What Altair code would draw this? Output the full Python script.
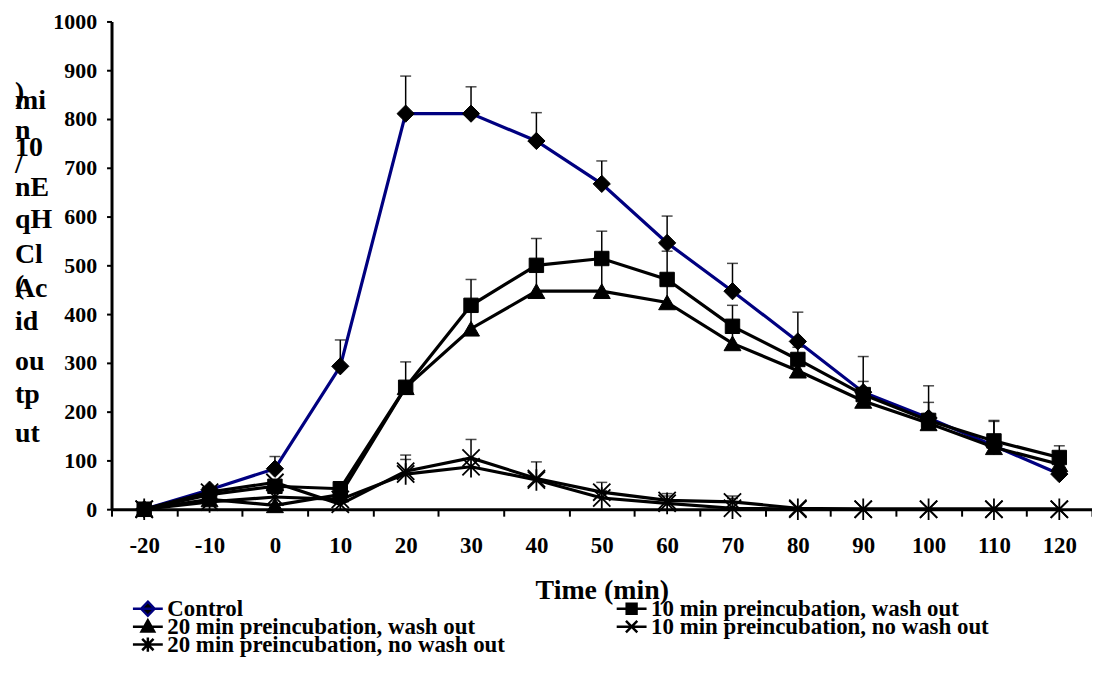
import altair as alt
import pandas as pd

# ---------------- data ----------------
times = [-20, -10, 0, 10, 20, 30, 40, 50, 60, 70, 80, 90, 100, 110, 120]
series_names = [
    "Control",
    "10 min preincubation, wash out",
    "20 min preincubation, wash out",
    "10 min preincubation, no wash out",
    "20 min preincubation, no wash out",
]
control = [0, 40, 83, 293, 811, 811, 755, 667, 546, 447, 344, 240, 187, 130, 72]
control_sem = [0, 0, 25, 54, 77, 55, 58, 47, 55, 57, 60, 73, 66, 50, 0]
wash10 = [0, 30, 47, 42, 250, 418, 500, 514, 471, 375, 307, 235, 182, 140, 106]
wash10_sem = [0, 0, 0, 0, 52, 53, 55, 56, 58, 43, 25, 27, 37, 42, 24]
wash20 = [0, 20, 8, 30, 250, 370, 447, 447, 424, 340, 284, 222, 176, 127, 92]
wash20_sem = [0, 0, 0, 0, 0, 40, 50, 60, 50, 35, 25, 25, 20, 25, 15]
nowash10 = [0, 35, 55, 10, 78, 105, 63, 35, 18, 15, 2, 0, 0, 0, 0]
nowash10_sem = [0, 0, 0, 0, 33, 38, 34, 20, 14, 12, 0, 0, 0, 0, 0]
nowash20 = [0, 15, 25, 20, 72, 87, 60, 23, 12, 2, 0, 0, 0, 0, 0]
nowash20_sem = [0, 0, 0, 0, 30, 0, 0, 15, 15, 20, 0, 0, 0, 0, 0]

y_ticks = [0, 100, 200, 300, 400, 500, 600, 700, 800, 900, 1000]
x_title = "Time (min)"
y_title_fragments = [")", "mi", "n", "10", "/", "nE", "qH", "Cl", "(", "Ac", "id", "ou", "tp", "ut"]

values_list = [control, wash10, wash20, nowash10, nowash20]
sems_list = [control_sem, wash10_sem, wash20_sem, nowash10_sem, nowash20_sem]

rows = []
for name, vals, sems in zip(series_names, values_list, sems_list):
    for t, v, s in zip(times, vals, sems):
        rows.append({"time": t, "value": v, "sem": s, "top": v + s, "series": name})
df = pd.DataFrame(rows)

# ---------------- layout / style ----------------
W, H = 985, 490
FONT = "Liberation Serif"
plot_left, plot_top = 112, 20
half_step = 5
x_dom = [times[0] - half_step, times[-1] + half_step]
tick_vals = [t - half_step for t in times] + [times[-1] + half_step]
label_shift = W * half_step / (x_dom[1] - x_dom[0])

x_enc = alt.X(
    "time:Q",
    scale=alt.Scale(domain=x_dom, nice=False, zero=False),
    axis=alt.Axis(
        values=tick_vals,
        labelExpr=f"datum.value < {times[-1]} ? '' + (datum.value + {half_step}) : ''",
        labelOffset=label_shift,
        labelFlush=False,
        labelOverlap=False,
        labelFontSize=23,
        labelPadding=18,
        tickSize=7,
        tickWidth=2,
        domainWidth=3,
        grid=False,
        title=x_title,
        titleFontSize=28,
        titlePadding=20,
    ),
)
y_enc = alt.Y(
    "value:Q",
    scale=alt.Scale(domain=[y_ticks[0], y_ticks[-1]], nice=False),
    axis=alt.Axis(
        values=y_ticks,
        format="d",
        labelFontSize=22,
        labelPadding=10,
        tickSize=5,
        tickWidth=2,
        domainWidth=3,
        grid=False,
        title=None,
    ),
)

colors = ["#000080", "black", "black", "black", "black"]

# chart markers
marker_shapes = [
    "diamond",
    "square",
    "triangle-up",
    "M-1,-1L1,1M-1,1L1,-1",
    "M-1,-1L1,1M-1,1L1,-1M0,-1.25L0,1.25",
]
marker_sizes = [300, 210, 290, 300, 300]
marker_filled = [True, True, True, False, False]

# legend symbols: short line with marker in the middle
legend_paths = [
    "M-1,0L1,0M0,-0.47L0.45,0L0,0.47L-0.45,0Z",
    "M-1,0L1,0M-0.33,-0.33L0.33,-0.33L0.33,0.33L-0.33,0.33Z",
    "M-1,0L1,0M0,-0.42L0.42,0.32L-0.42,0.32Z",
    "M-1,0L1,0M-0.38,-0.38L0.38,0.38M-0.38,0.38L0.38,-0.38",
    "M-1,0L1,0M-0.38,-0.38L0.38,0.38M-0.38,0.38L0.38,-0.38M0,-0.48L0,0.48",
]
# legend grid: 2 columns, entries row by row
legend_col_x = [148, 634]    # symbol centres (page px)
legend_row_y = [609, 627, 645]
sym_half = 16

line_layers = []
point_layers = []
for name, col, shp, sz, filled in zip(series_names, colors, marker_shapes, marker_sizes, marker_filled):
    sub = df[df["series"] == name]
    line_layers.append(
        alt.Chart(sub).mark_line(strokeWidth=3.2, color=col).encode(x=x_enc, y=y_enc, order="time:Q")
    )
    if filled:
        mk = alt.Chart(sub).mark_point(
            shape=shp, size=sz, filled=True, fill="black", stroke="black",
            strokeWidth=1, opacity=1
        )
    else:
        mk = alt.Chart(sub).mark_point(
            shape=shp, size=sz, filled=False, stroke="black", strokeWidth=1.8, opacity=1
        )
    point_layers.append(mk.encode(x=x_enc, y=y_enc))

err_df = df[df["sem"] > 0]
rules = alt.Chart(err_df).mark_rule(color="black", strokeWidth=1.5).encode(
    x=x_enc, y=alt.Y("value:Q"), y2="top:Q"
)
caps = alt.Chart(err_df).mark_tick(
    color="black", orient="horizontal", size=11, thickness=1.5
).encode(x=x_enc, y=alt.Y("top:Q"))

legend_layers = []
for i, (name, col, path) in enumerate(zip(series_names, colors, legend_paths)):
    r, c = divmod(i, 2)
    props = dict(
        title=None,
        orient="none",
        legendX=legend_col_x[c] - plot_left - sym_half,
        legendY=legend_row_y[r] - plot_top - 15.5,
        symbolSize=900,
        symbolStrokeWidth=2.5,
        symbolOpacity=1,
        labelOffset=3,
        labelFontSize=23,
        labelFont=FONT,
        labelFontWeight="bold",
        labelColor="black",
        labelLimit=0,
        padding=0,
    )
    legend_layers.append(
        alt.Chart(df).transform_filter("false").mark_point(
            filled=False, fill="black", strokeWidth=2.5
        ).encode(
            x=x_enc,
            y=y_enc,
            color=alt.Color("series:N", scale=alt.Scale(domain=[name], range=[col]),
                            legend=alt.Legend(**props)),
            shape=alt.Shape("series:N", scale=alt.Scale(domain=[name], range=[path]),
                            legend=alt.Legend(**props)),
        )
    )

# y-axis title, reproduced as the broken fragments of the reference
frag_baselines = [100, 108, 138, 155, 172, 195, 227, 263, 294, 297, 330, 370, 403, 442]
text_layers = []
for frag, base in zip(y_title_fragments, frag_baselines):
    text_layers.append(
        alt.Chart(alt.Data(values=[{"t": frag}])).mark_text(
            align="left", baseline="alphabetic", font=FONT, fontWeight="bold",
            fontSize=28, color="black"
        ).encode(
            x=alt.value(15 - plot_left),
            y=alt.value(base - plot_top),
            text="t:N",
        )
    )

chart = alt.layer(
    *line_layers, rules, caps, *point_layers, *legend_layers, *text_layers
).resolve_scale(
    color="independent", shape="independent"
).properties(
    width=W,
    height=H,
    autosize=alt.AutoSizeParams(type="none"),
    padding={"left": plot_left - 8, "top": plot_top - 8, "right": 0, "bottom": 155},
).configure(
    font=FONT,
).configure_axis(
    labelFont=FONT,
    titleFont=FONT,
    labelFontWeight="bold",
    titleFontWeight="bold",
    labelColor="black",
    titleColor="black",
    domainColor="black",
    tickColor="black",
).configure_view(stroke=None)

chart.save("out.html", embed_options={"renderer": "svg", "actions": False})
